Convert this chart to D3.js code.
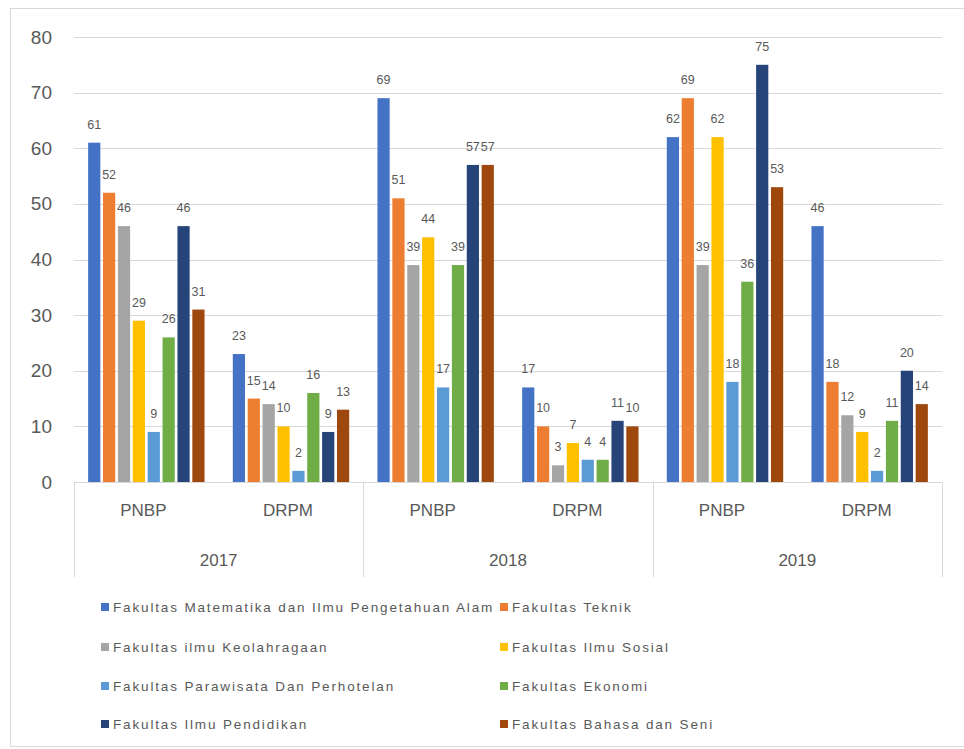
<!DOCTYPE html>
<html>
<head>
<meta charset="utf-8">
<script src="https://cdn.jsdelivr.net/npm/d3@7"></script>
<style>
  html, body { margin: 0; padding: 0; background: #fff; }
  svg { display: block; }
  text { font-family: "Liberation Sans", Arial, sans-serif; fill: #595959; }
</style>
</head>
<body>
<svg id="chart" width="964" height="749"></svg>
<script>
const years = ["2017", "2018", "2019"];
const sources = ["PNBP", "DRPM"];
const categories = ["2017|PNBP", "2017|DRPM", "2018|PNBP", "2018|DRPM", "2019|PNBP", "2019|DRPM"];
const seriesNames = [
  "Fakultas Matematika dan Ilmu Pengetahuan Alam",
  "Fakultas Teknik",
  "Fakultas ilmu Keolahragaan",
  "Fakultas Ilmu Sosial",
  "Fakultas Parawisata Dan Perhotelan",
  "Fakultas Ekonomi",
  "Fakultas Ilmu Pendidikan",
  "Fakultas Bahasa dan Seni"
];
const seriesColors = ["#4472C4", "#ED7D31", "#A5A5A5", "#FFC000", "#5B9BD5", "#70AD47", "#264478", "#9E480E"];
const valsMIPA        = [61, 23, 69, 17, 62, 46];
const valsTeknik      = [52, 15, 51, 10, 69, 18];
const valsKeolahraga  = [46, 14, 39, 3, 39, 12];
const valsSosial      = [29, 10, 44, 7, 62, 9];
const valsParawisata  = [9, 2, 17, 4, 18, 2];
const valsEkonomi     = [26, 16, 39, 4, 36, 11];
const valsPendidikan  = [46, 9, 57, 11, 75, 20];
const valsBahasa      = [31, 13, 57, 10, 53, 14];
const seriesValues = [valsMIPA, valsTeknik, valsKeolahraga, valsSosial, valsParawisata, valsEkonomi, valsPendidikan, valsBahasa];
const yTicks = [0, 10, 20, 30, 40, 50, 60, 70, 80];

(function () {
const svg = d3.select("#chart");

// outer chart border
svg.append("rect").attr("x", 10.5).attr("y", 8.5).attr("width", 980).attr("height", 738)
  .attr("fill", "none").attr("stroke", "#d9d9d9").attr("stroke-width", 1);

const pL = 74, pR = 942, pT = 37, pB = 482;
const y = d3.scaleLinear().domain([0, 80]).range([pB, pT]);
const x0 = d3.scaleBand().domain(categories).range([pL, pR]).padding(0);
const x1 = d3.scaleBand().domain(d3.range(seriesNames.length)).range([0, x0.bandwidth()])
  .paddingInner(0.18).paddingOuter(0.95);

// gridlines
svg.append("g").selectAll("line").data(yTicks).join("line")
  .attr("x1", pL).attr("x2", pR)
  .attr("y1", d => Math.round(y(d)) + 0.5).attr("y2", d => Math.round(y(d)) + 0.5)
  .attr("stroke", "#d9d9d9").attr("stroke-width", 1);

// y axis labels
const yAxis = d3.axisLeft(y).tickValues(yTicks).tickSize(0).tickPadding(0);
const gy = svg.append("g").attr("transform", `translate(52,0)`).call(yAxis);
gy.select(".domain").remove();
gy.selectAll("text").attr("font-size", 19).attr("fill", "#595959")
  .style("font-family", "'Liberation Sans', Arial, sans-serif");

// bars
const catGroups = svg.append("g").selectAll("g").data(categories).join("g")
  .attr("transform", d => `translate(${x0(d)},0)`);
catGroups.each(function(cat, ci) {
  const g = d3.select(this);
  const items = seriesNames.map((s, si) => ({ si, v: seriesValues[si][ci] }));
  g.selectAll("rect").data(items).join("rect")
    .attr("x", d => x1(d.si)).attr("width", x1.bandwidth())
    .attr("y", d => y(d.v)).attr("height", d => y(0) - y(d.v))
    .attr("fill", d => seriesColors[d.si]);
  g.selectAll("text").data(items).join("text")
    .attr("x", d => x1(d.si) + x1.bandwidth() / 2)
    .attr("y", d => y(d.v) - 14)
    .attr("text-anchor", "middle").attr("font-size", 12.5)
    .text(d => d.v);
});

// category axis baseline
svg.append("line").attr("x1", pL).attr("x2", pR).attr("y1", pB + 0.5).attr("y2", pB + 0.5)
  .attr("stroke", "#d9d9d9");
// year separators
const sepX = [pL].concat(years.map(yr => x0(yr + "|DRPM") + x0.bandwidth()));
svg.append("g").selectAll("line").data(sepX).join("line")
  .attr("x1", d => Math.round(d) + 0.5).attr("x2", d => Math.round(d) + 0.5)
  .attr("y1", pB).attr("y2", 577).attr("stroke", "#d9d9d9");

// sub-category labels
svg.append("g").selectAll("text").data(categories).join("text")
  .attr("x", d => x0(d) + x0.bandwidth() / 2 - 3).attr("y", 516)
  .attr("text-anchor", "middle").attr("font-size", 17)
  .text(d => d.split("|")[1]);
// year labels
svg.append("g").selectAll("text").data(years).join("text")
  .attr("x", d => x0(d + "|PNBP") + x0.bandwidth()).attr("y", 566)
  .attr("text-anchor", "middle").attr("font-size", 17)
  .text(d => d);

// legend
const legX = [101, 500], legY = [607, 647, 686, 724];
const leg = svg.append("g").selectAll("g").data(seriesNames).join("g")
  .attr("transform", (d, i) => `translate(${legX[i % 2]},${legY[Math.floor(i / 2)]})`);
leg.append("rect").attr("x", 0).attr("y", -4).attr("width", 8).attr("height", 8)
  .attr("fill", (d, i) => seriesColors[i]);
leg.append("text").attr("x", 12).attr("y", 5).attr("font-size", 13.5)
  .attr("letter-spacing", 1.85).attr("fill", "#6a6a6a")
  .text(d => d);
})();
</script>
</body>
</html>
